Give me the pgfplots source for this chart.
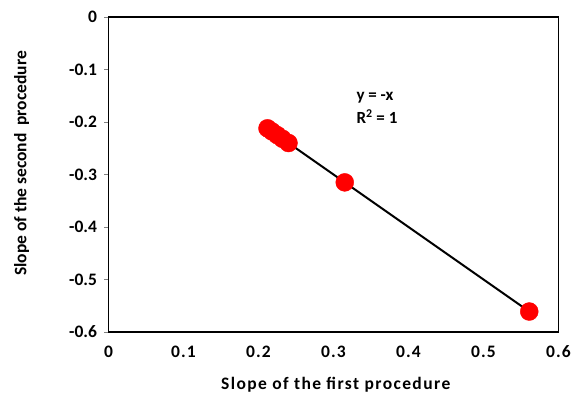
\documentclass[border=0pt]{standalone}
\usepackage{pgfplots}
\pgfplotsset{compat=1.18}
\usepackage{fontspec}
\setmainfont{Carlito}
\begin{document}
\begin{tikzpicture}[x=1pt,y=1pt]
\path[use as bounding box] (-108.5,-68) rectangle (464.5,332);
\begin{axis}[
  at={(0,0)}, anchor=south west,
  scale only axis, width=450pt, height=315pt,
  xmin=0, xmax=0.6, ymin=-0.6, ymax=0,
  xtick={0,0.1,...,0.6}, ytick={-0.6,-0.5,...,0},
  xticklabels={0,0.1,0.2,0.3,0.4,0.5,0.6},
  yticklabels={-0.6,-0.5,-0.4,-0.3,-0.2,-0.1,0},
  axis line style={line width=1.6pt, black},
  tick align=outside, major tick length=4pt,
  ytick pos=left, xtick pos=bottom,
  xtick style={draw=none},
  ytick style={line width=0.8pt, gray},
  ticklabel style={font=\fontsize{17.5}{20}\selectfont\bfseries},
  xticklabel style={yshift=-6pt, font=\fontsize{17.5}{20}\selectfont\bfseries\addfontfeature{LetterSpace=6}},
  yticklabel style={xshift=-4pt},
  xlabel={Slope of the first procedure},
  ylabel={Slope of the second\ \ procedure},
  label style={font=\fontsize{17.5}{20}\selectfont\bfseries},
  xlabel style={at={(axis description cs:0.505,-0.167)}, anchor=center, font=\fontsize{17.5}{20}\selectfont\bfseries\addfontfeature{LetterSpace=8}},
  ylabel style={at={(axis description cs:-0.193,0.535)}, anchor=center},
  clip=false,
]
\addplot[only marks, mark=*, mark size=9pt, mark options={fill=red, draw=red}]
  coordinates {(0.212,-0.212) (0.218,-0.218) (0.225,-0.225) (0.232,-0.232) (0.240,-0.240) (0.315,-0.315) (0.561,-0.561)};
\addplot[black, line width=2pt, no marks] coordinates {(0.212,-0.212) (0.561,-0.561)};
\node[anchor=west, font=\fontsize{17}{20}\selectfont\bfseries, align=left] at (axis cs:0.326,-0.153) {y = -x};
\node[anchor=west, font=\fontsize{17}{20}\selectfont\bfseries, align=left] at (axis cs:0.326,-0.19) {R\textsuperscript{2} = 1};
\end{axis}
\end{tikzpicture}
\end{document}
